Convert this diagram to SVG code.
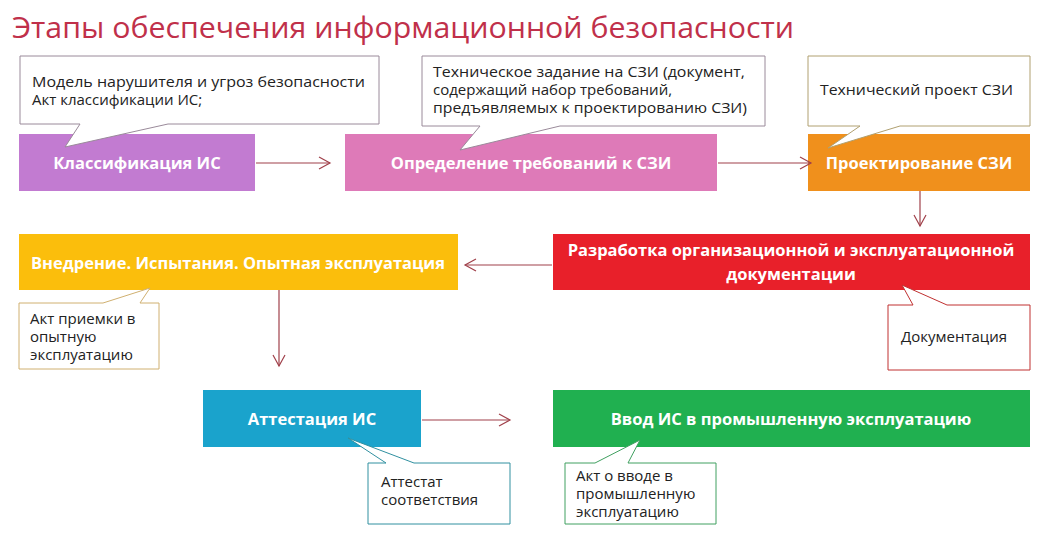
<svg xmlns="http://www.w3.org/2000/svg" width="1052" height="540" viewBox="0 0 1052 540">
<defs>
<marker id="ar" markerWidth="14" markerHeight="14" refX="12" refY="7" orient="auto" markerUnits="userSpaceOnUse">
<path d="M1,1 L12,7 L1,13" fill="none" stroke="#a0404a" stroke-width="1.2"/>
</marker>
</defs>
<style>
.n{font-family:"Open Sans","Liberation Sans",sans-serif;font-weight:bold;font-size:16.5px;fill:#fff;text-anchor:middle}
.c{font-family:"Open Sans","Liberation Sans",sans-serif;font-size:15px;fill:#222}
.co{fill:#fff;stroke-width:1}
.e{stroke:#a0404a;stroke-width:1.2;fill:none;marker-end:url(#ar)}
</style>
<rect width="1052" height="540" fill="#fff"/>
<text x="12" y="38" font-family="Open Sans,Liberation Sans,sans-serif" font-size="30" fill="#c0304a" textLength="782" lengthAdjust="spacingAndGlyphs">Этапы обеспечения информационной безопасности</text>

<g id="n1"><rect x="19" y="134" width="236" height="57" fill="#c27bd1"/><text class="n" x="137" y="169">Классификация ИС</text></g>
<g id="c1"><path class="co" stroke="#9a8a9a" d="M20,56 H379 V124 H168 L65,147 L80,124 H20 Z"/><text class="c" x="32" y="87" textLength="333" lengthAdjust="spacingAndGlyphs">Модель нарушителя и угроз безопасности</text><text class="c" x="32" y="105">Акт классификации ИС;</text></g>

<g id="n2"><rect x="345" y="134" width="372" height="57" fill="#de7ab8"/><text class="n" x="531" y="169">Определение требований к СЗИ</text></g>
<g id="c2"><path class="co" stroke="#9a8a9a" d="M422,56 H765 V126 H560 L460,150 L480,126 H422 Z"/><text class="c" x="433" y="77" textLength="312" lengthAdjust="spacingAndGlyphs">Техническое задание на СЗИ (документ,</text><text class="c" x="433" y="95">содержащий набор требований,</text><text class="c" x="433" y="113" textLength="314" lengthAdjust="spacingAndGlyphs">предъявляемых к проектированию СЗИ)</text></g>

<g id="n3"><rect x="808" y="134" width="222" height="57" fill="#f0901c"/><text class="n" x="919" y="169">Проектирование СЗИ</text></g>
<g id="c3"><path class="co" stroke="#b0a070" d="M808,56 H1030 V126 H900 L828,148 L860,126 H808 Z"/><text class="c" x="820" y="95" textLength="193" lengthAdjust="spacingAndGlyphs">Технический проект СЗИ</text></g>

<g id="n4"><rect x="553" y="234" width="477" height="56" fill="#e8202a"/><text class="n" x="791" y="256">Разработка организационной и эксплуатационной</text><text class="n" x="791" y="280">документации</text></g>
<g id="c4"><path class="co" stroke="#c03030" d="M888,305 H913 L902,285 L947,305 H1030 V370 H888 Z"/><text class="c" x="901" y="342">Документация</text></g>

<g id="n5"><rect x="19" y="234" width="439" height="56" fill="#fbbe0c"/><text class="n" x="238" y="269">Внедрение. Испытания. Опытная эксплуатация</text></g>
<g id="c5"><path class="co" stroke="#d0b070" d="M19,303 H103 L150,288 L140,303 H159 V369 H19 Z"/><text class="c" x="30" y="324">Акт приемки  в</text><text class="c" x="30" y="342">опытную</text><text class="c" x="30" y="360">эксплуатацию</text></g>

<g id="n6"><rect x="203" y="390" width="218" height="57" fill="#1aa3cc"/><text class="n" x="312" y="425">Аттестация ИС</text></g>
<g id="c6"><path class="co" stroke="#3090a0" d="M368,463 H386 L348,438 L414,463 H510 V524 H368 Z"/><text class="c" x="381" y="487">Аттестат</text><text class="c" x="381" y="505">соответствия</text></g>

<g id="n7"><rect x="553" y="390" width="477" height="57" fill="#20b050"/><text class="n" x="791" y="425">Ввод ИС в промышленную эксплуатацию</text></g>
<g id="c7"><path class="co" stroke="#40a060" d="M565,463 H595 L640,440 L628,463 H716 V524 H565 Z"/><text class="c" x="576" y="481">Акт о вводе в</text><text class="c" x="576" y="499">промышленную</text><text class="c" x="576" y="517">эксплуатацию</text></g>

<g id="connectors">
<line class="e" x1="256" y1="163" x2="330" y2="163"/>
<line class="e" x1="718" y1="163" x2="811" y2="163"/>
<line class="e" x1="920" y1="191" x2="920" y2="226"/>
<line class="e" x1="552" y1="265" x2="465" y2="265"/>
<line class="e" x1="279" y1="290" x2="279" y2="366"/>
<line class="e" x1="422" y1="420" x2="510" y2="420"/>
</g>
</svg>
